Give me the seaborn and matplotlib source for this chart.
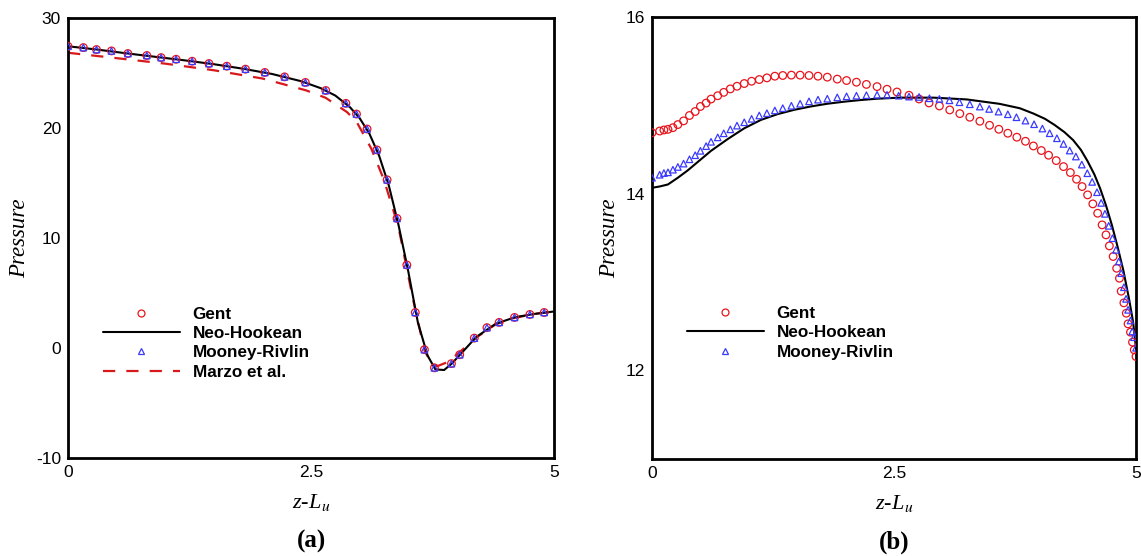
import numpy as np
import pandas as pd
import matplotlib
matplotlib.use("Agg")
import matplotlib.pyplot as plt
from matplotlib.lines import Line2D
from matplotlib.ticker import AutoMinorLocator
import seaborn as sns

# ---------------- data: panel (a) ----------------
a_marker_x = [0.0, 0.158, 0.293, 0.447, 0.616, 0.811, 0.958, 1.112, 1.277, 1.45,
              1.634, 1.826, 2.025, 2.228, 2.442, 2.652, 2.859, 2.968, 3.077, 3.178,
              3.283, 3.385, 3.486, 3.573, 3.667, 3.77, 3.945, 4.03, 4.18, 4.31,
              4.436, 4.594, 4.752, 4.899]
a_gent_y = [27.43, 27.31, 27.13, 27.01, 26.77, 26.59, 26.40, 26.25, 26.07, 25.86,
            25.62, 25.35, 25.05, 24.65, 24.14, 23.41, 22.24, 21.27, 19.91, 18.01,
            15.29, 11.78, 7.55, 3.23, -0.15, -1.80, -1.42, -0.61, 0.90, 1.85,
            2.33, 2.78, 3.05, 3.23]
a_mooney_y = [27.43, 27.31, 27.13, 27.01, 26.77, 26.59, 26.40, 26.25, 26.07, 25.86,
              25.62, 25.35, 25.05, 24.65, 24.14, 23.41, 22.24, 21.27, 19.91, 18.01,
              15.29, 11.78, 7.55, 3.23, -0.15, -1.80, -1.42, -0.61, 0.90, 1.85,
              2.33, 2.78, 3.05, 3.23]
a_neo_x = [0.0, 0.3, 0.6, 0.9, 1.2, 1.5, 1.8, 2.1, 2.4, 2.6, 2.75, 2.9, 3.0, 3.1,
           3.2, 3.3, 3.4, 3.5, 3.6, 3.7, 3.78, 3.87, 3.95, 4.05, 4.2, 4.4, 4.6,
           4.8, 5.0]
a_neo_y = [27.43, 27.13, 26.79, 26.47, 26.15, 25.80, 25.39, 24.91, 24.25, 23.62,
           22.95, 21.90, 20.90, 19.50, 17.50, 14.80, 11.20, 7.00, 2.30, -0.70,
           -1.95, -2.00, -1.40, -0.45, 1.00, 2.20, 2.80, 3.10, 3.32]
a_marzo_x = [0.0, 0.5, 1.0, 1.5, 2.0, 2.45, 2.65, 2.87, 2.97, 3.12, 3.25, 3.4,
             3.55, 3.67, 3.75, 3.8, 3.9, 4.0, 4.2, 4.4, 4.6, 4.8, 5.0]
a_marzo_y = [26.84, 26.35, 25.85, 25.25, 24.50, 23.42, 22.75, 21.45, 20.55, 18.13,
             15.30, 11.00, 4.40, -0.30, -1.50, -1.65, -1.30, -0.60, 0.95, 2.15,
             2.75, 3.10, 3.32]

# ---------------- data: panel (b) ----------------
b_gent_x = [0.0, 0.079, 0.123, 0.165, 0.216, 0.267, 0.326, 0.387, 0.446, 0.5,
            0.559, 0.61, 0.679, 0.741, 0.809, 0.878, 0.953, 1.029, 1.108, 1.187,
            1.269, 1.351, 1.44, 1.53, 1.622, 1.715, 1.811, 1.914, 2.01, 2.112,
            2.215, 2.325, 2.428, 2.531, 2.655, 2.759, 2.862, 2.969, 3.076, 3.18,
            3.283, 3.387, 3.487, 3.583, 3.676, 3.769, 3.858, 3.94, 4.022, 4.097,
            4.176, 4.251, 4.322, 4.386, 4.443, 4.5, 4.554, 4.604, 4.65, 4.69,
            4.725, 4.764, 4.8, 4.829, 4.847, 4.875, 4.9, 4.918, 4.943, 4.964,
            4.982, 5.0]
b_gent_y = [14.693, 14.712, 14.724, 14.731, 14.750, 14.785, 14.827, 14.888, 14.933, 14.990,
            15.029, 15.074, 15.112, 15.150, 15.189, 15.219, 15.250, 15.276, 15.295, 15.314,
            15.333, 15.341, 15.345, 15.345, 15.341, 15.333, 15.322, 15.300, 15.284, 15.265,
            15.240, 15.215, 15.185, 15.154, 15.117, 15.075, 15.030, 14.996, 14.951, 14.909,
            14.868, 14.823, 14.777, 14.732, 14.687, 14.642, 14.596, 14.543, 14.491, 14.438,
            14.377, 14.309, 14.242, 14.166, 14.083, 13.989, 13.887, 13.781, 13.649, 13.536,
            13.411, 13.291, 13.158, 13.045, 12.898, 12.766, 12.649, 12.528, 12.434, 12.321,
            12.234, 12.158]
b_mooney_x = [0.0, 0.079, 0.123, 0.165, 0.216, 0.267, 0.326, 0.387, 0.446, 0.5,
              0.559, 0.61, 0.679, 0.741, 0.809, 0.878, 0.953, 1.029, 1.108, 1.187,
              1.269, 1.351, 1.44, 1.53, 1.622, 1.715, 1.811, 1.914, 2.01, 2.112,
              2.215, 2.325, 2.428, 2.548, 2.655, 2.759, 2.866, 2.969, 3.073, 3.176,
              3.283, 3.387, 3.483, 3.58, 3.676, 3.765, 3.858, 3.947, 4.033, 4.108,
              4.183, 4.251, 4.315, 4.379, 4.44, 4.497, 4.547, 4.597, 4.64, 4.679,
              4.718, 4.757, 4.793, 4.822, 4.847, 4.875, 4.897, 4.918, 4.943, 4.961,
              4.979, 5.0]
b_mooney_y = [14.183, 14.217, 14.236, 14.244, 14.274, 14.305, 14.343, 14.392, 14.438, 14.488,
              14.541, 14.590, 14.640, 14.686, 14.731, 14.773, 14.811, 14.850, 14.888, 14.914,
              14.945, 14.971, 14.998, 15.021, 15.048, 15.067, 15.078, 15.093, 15.105, 15.112,
              15.118, 15.122, 15.122, 15.112, 15.102, 15.098, 15.083, 15.075, 15.060, 15.038,
              15.015, 14.989, 14.962, 14.932, 14.902, 14.868, 14.830, 14.789, 14.740, 14.687,
              14.630, 14.566, 14.491, 14.423, 14.332, 14.234, 14.136, 14.019, 13.898, 13.774,
              13.638, 13.498, 13.366, 13.234, 13.102, 12.943, 12.811, 12.687, 12.566, 12.442,
              12.377, 12.257]
b_neo_x = [0.0, 0.079, 0.165, 0.267, 0.37, 0.473, 0.61, 0.782, 0.953, 1.125,
           1.296, 1.468, 1.639, 1.811, 1.982, 2.154, 2.325, 2.56, 2.91, 3.25,
           3.59, 3.8, 3.94, 4.06, 4.16, 4.26, 4.35, 4.43, 4.50, 4.57, 4.63,
           4.69, 4.75, 4.81, 4.87, 4.93, 4.97, 5.0]
b_neo_y = [14.069, 14.084, 14.107, 14.183, 14.267, 14.362, 14.488, 14.621, 14.743, 14.838,
           14.903, 14.952, 14.990, 15.021, 15.044, 15.063, 15.078, 15.090, 15.090, 15.070,
           15.020, 14.970, 14.910, 14.850, 14.780, 14.700, 14.610, 14.500, 14.370, 14.220,
           14.060, 13.870, 13.650, 13.400, 13.130, 12.800, 12.550, 12.250]

x_ticks = [0, 2.5, 5]
x_ticklabels = ["0", "2.5", "5"]
a_yticks = [-10, 0, 10, 20, 30]
b_yticks = [12, 14, 16]
panel_labels = ["(a)", "(b)"]
legend_labels = ["Gent", "Neo-Hookean", "Mooney-Rivlin", "Marzo et al."]

# ---------------- style ----------------
sns.set_style("white")
plt.rcParams["font.family"] = ["Liberation Sans", "DejaVu Sans"]
plt.rcParams["mathtext.fontset"] = "stix"
plt.rcParams["axes.unicode_minus"] = False
plt.rcParams["text.color"] = "black"
plt.rcParams["axes.labelcolor"] = "black"

RED = "#e8141c"
BLUE = "#3a3aff"
DRED = "#d7191c"
DASH = (5.5, 5)

fig = plt.figure(figsize=(11.41, 5.56), dpi=100)
axA = fig.add_axes([68 / 1141, 1 - 458 / 556, 486 / 1141, 440 / 556])
axB = fig.add_axes([652 / 1141, 1 - 458.8 / 556, 484 / 1141, 441.5 / 556])


def draw_series(ax, x, y, kind):
    df = pd.DataFrame({"x": x, "y": y})
    if kind == "neo":
        sns.lineplot(data=df, x="x", y="y", ax=ax, color="black", lw=1.5,
                     sort=False, estimator=None, zorder=3)
    elif kind == "marzo":
        sns.lineplot(data=df, x="x", y="y", ax=ax, color=DRED, lw=1.6,
                     sort=False, estimator=None, zorder=2)
        ax.lines[-1].set_dashes(DASH)
    elif kind == "gent":
        sns.scatterplot(data=df, x="x", y="y", ax=ax, marker="o", s=30,
                        fc="none", ec=RED, linewidth=0.9, zorder=4)
    elif kind == "mooney":
        sns.scatterplot(data=df, x="x", y="y", ax=ax, marker="^", s=22,
                        fc="none", ec=BLUE, linewidth=0.9, zorder=5)


draw_series(axA, a_marzo_x, a_marzo_y, "marzo")
draw_series(axA, a_neo_x, a_neo_y, "neo")
draw_series(axA, a_marker_x, a_gent_y, "gent")
draw_series(axA, a_marker_x, a_mooney_y, "mooney")

draw_series(axB, b_neo_x, b_neo_y, "neo")
draw_series(axB, b_gent_x, b_gent_y, "gent")
draw_series(axB, b_mooney_x, b_mooney_y, "mooney")

axA.set_xlim(0, 5)
axA.set_ylim(-10, 30)
axB.set_xlim(0, 5)
axB.set_ylim(11, 16)
axA.set_yticks(a_yticks)
axB.set_yticks(b_yticks)

for ax, lab in zip([axA, axB], panel_labels):
    ax.set_xticks(x_ticks)
    ax.set_xticklabels(x_ticklabels)
    ax.xaxis.set_minor_locator(AutoMinorLocator(5))
    ax.yaxis.set_minor_locator(AutoMinorLocator(5))
    ax.tick_params(which="both", direction="in", top=False, right=False,
                   labelsize=12.5, colors="black", width=1.2, pad=5)
    ax.tick_params(which="major", length=8, width=1.6)
    ax.tick_params(which="minor", length=4)
    for sp in ax.spines.values():
        sp.set_linewidth(2.0)
        sp.set_color("black")
    ax.set_xlabel(r"z-L$_{u}$", fontsize=16, family="Liberation Serif",
                  style="italic", labelpad=9, color="black")
    ax.set_ylabel("Pressure", fontsize=16.5, family="Liberation Serif",
                  style="italic", labelpad=4, color="black")
    ax.text(0.5, -0.203, lab, transform=ax.transAxes, ha="center", va="baseline",
            fontsize=18, family="Liberation Serif", weight="bold", color="black")

h_gent = Line2D([], [], ls="none", marker="o", mfc="none", mec=RED, ms=5, mew=0.9)
h_neo = Line2D([], [], color="black", lw=1.5)
h_moon = Line2D([], [], ls="none", marker="^", mfc="none", mec=BLUE, ms=4.5, mew=0.9)
h_marzo = Line2D([], [], color=DRED, lw=1.6, dashes=DASH)

legprops = dict(frameon=False, loc="center left", handlelength=4.5,
                handletextpad=0.75, labelspacing=0.25, borderpad=0,
                borderaxespad=0, labelcolor="black",
                prop={"family": "Liberation Sans", "weight": "bold", "size": 12.3})
axA.legend([h_gent, h_neo, h_moon, h_marzo], legend_labels,
           bbox_to_anchor=(0.072, 0.261), **legprops)
axB.legend([h_gent, h_neo, h_moon], legend_labels[:3],
           bbox_to_anchor=(0.072, 0.285), **legprops)

fig.savefig("out.png", dpi=100)
